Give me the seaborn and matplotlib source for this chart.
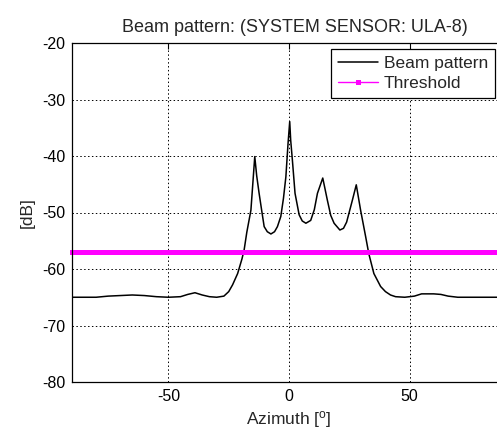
import numpy as np
import pandas as pd
import matplotlib
matplotlib.use("Agg")
import matplotlib.pyplot as plt
import seaborn as sns

# Datos

# Patrón de haz (azimut en grados, nivel en dB)
beam_az = [-90, -80, -75, -70, -65, -60, -55, -50, -45, -42, -39, -36, -33, -30,
           -27, -25, -23.4, -21.3, -19.5, -18.6, -17.5, -15.8, -14.2, -13.4, -12.4,
           -11.2, -10.3, -9, -7.5, -6, -4.8, -3.4, -2.3, -1.3, -0.4, 0.3, 0.7, 1.4,
           2.5, 4.2, 5.5, 7, 9, 10.5, 11.8, 14, 15.9, 17.3, 18.7, 21.1, 22.6, 23.9,
           26.3, 27.9, 29.7, 31.8, 33.1, 35.2, 38, 40, 42.1, 44.2, 48, 52, 55, 60,
           63, 66, 70, 80, 90]
beam_db = [-65.0, -65.0, -64.8, -64.7, -64.6, -64.7, -64.9, -65.0, -64.9, -64.5,
           -64.2, -64.6, -64.9, -65.0, -64.8, -64.0, -62.8, -60.8, -58.2, -56.6,
           -53.5, -49.6, -40.1, -43.5, -46.6, -50.0, -52.5, -53.4, -53.8, -53.4,
           -52.5, -50.7, -47.5, -43.7, -37.8, -33.9, -37.2, -40.7, -46.6, -50.4,
           -51.5, -51.9, -51.4, -49.5, -46.6, -43.9, -47.8, -50.5, -51.9, -53.1,
           -52.8, -51.7, -47.8, -45.1, -49.6, -54.3, -57.3, -60.8, -63.1, -64.0,
           -64.6, -64.9, -65.0, -64.8, -64.4, -64.4, -64.5, -64.8, -65.0, -65.0,
           -65.0]

# Umbral
threshold_db = -57.0
threshold_az = np.arange(-90, 91, 1)

x_ticks = [-50, 0, 50]
y_ticks = [-80, -70, -60, -50, -40, -30, -20]

titulo = "Beam pattern: (SYSTEM SENSOR: ULA-8)"

df_beam = pd.DataFrame({"az": beam_az, "db": beam_db})
df_thr = pd.DataFrame({"az": threshold_az,
                       "db": np.full(len(threshold_az), threshold_db)})

# Estilo

sns.set_style("white")
plt.rcParams["font.family"] = ["Liberation Sans", "DejaVu Sans"]
plt.rcParams["axes.unicode_minus"] = False
plt.rcParams["mathtext.fontset"] = "custom"
plt.rcParams["mathtext.rm"] = "Liberation Sans"
plt.rcParams["mathtext.it"] = "Liberation Sans:italic"

fig = plt.figure(figsize=(4.97, 4.30), dpi=100)
fig.patch.set_facecolor("white")
ax = fig.add_axes([72 / 497, 1 - 382 / 430, 434 / 497, 339 / 430])

sns.lineplot(data=df_beam, x="az", y="db", color="black", linewidth=1.1,
             label="Beam pattern", ax=ax)
sns.lineplot(data=df_thr, x="az", y="db", color="magenta", linewidth=1.0,
             marker="s", markersize=3.6, markeredgewidth=0,
             label="Threshold", ax=ax, clip_on=False)

ax.set_xlim(-90, 90)
ax.set_ylim(-80, -20)
ax.set_xticks(x_ticks)
ax.set_yticks(y_ticks)

ax.grid(True, color="black", linestyle=(0, (1.5, 2.5)), linewidth=0.7)
for s in ax.spines.values():
    s.set_color("black")
    s.set_linewidth(0.9)
    s.set_visible(True)

ax.tick_params(direction="in", length=4, width=0.8, top=True, right=True,
               labelsize=11.5, colors="black", pad=5)

ax.set_xlabel("Azimuth [$^{\\mathrm{o}}$]", fontsize=12.5, labelpad=3.5)
ax.set_ylabel("[dB]", fontsize=12.5, labelpad=5)
ax.set_title(titulo, fontsize=13, pad=8, x=0.514)

leg = ax.legend(loc="upper left", bbox_to_anchor=(331 / 497, 1 - 49 / 430),
                bbox_transform=fig.transFigure, borderaxespad=0,
                fontsize=12.5, frameon=True, fancybox=False, framealpha=1,
                edgecolor="black", handlelength=2.3, handletextpad=0.35,
                labelspacing=0.3, borderpad=0.4)
leg.get_frame().set_linewidth(0.9)

plt.savefig("out.png", dpi=100)
plt.close()
